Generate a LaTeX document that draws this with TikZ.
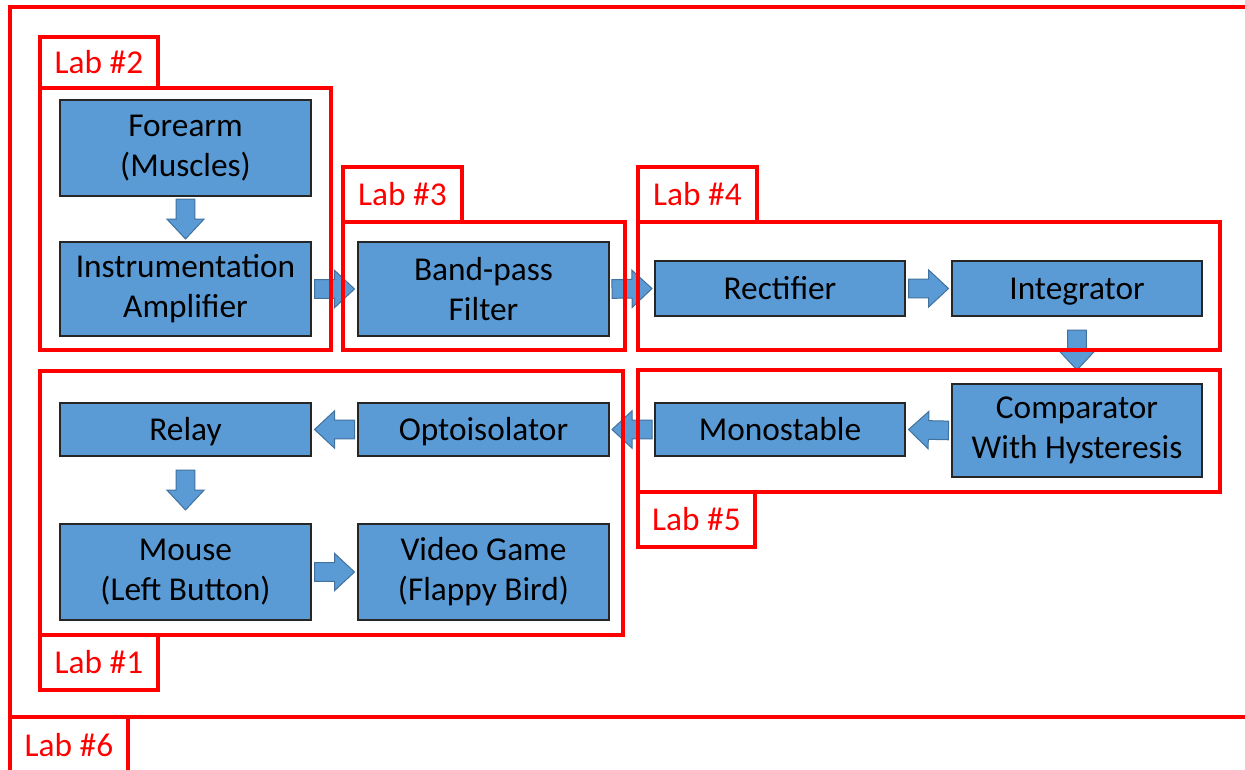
\documentclass[tikz,border=0pt]{standalone}
\usepackage{fontspec}
\setmainfont{Carlito}
\usetikzlibrary{calc}
\definecolor{blockblue}{HTML}{5B9BD5}
\definecolor{arrowedge}{HTML}{41719C}
\definecolor{labred}{HTML}{FF0000}
\tikzset{
  blockbase/.style={draw=black!85, line width=1pt, fill=blockblue, inner sep=0pt,
    font=\fontsize{25}{30}\selectfont, text=black},
  block/.style={blockbase, align=center},
  oneline/.style={blockbase, text height=20pt, text depth=4pt},
  bw/.style={minimum width=#1*0.75pt},
  bh/.style={minimum height=#1*0.75pt},
  labframe/.style={draw=labred, line width=3pt},
  labtag/.style={draw=labred, line width=3pt, text=labred, inner sep=0pt,
    font=\fontsize{25}{30}\selectfont, text height=20pt, text depth=4pt},
  barrowstyle/.style={fill=blockblue, draw=arrowedge, line width=0.75pt, line join=miter},
}
\newcommand\barrow[2]{%
  \coordinate (bM) at ($(#1)!0.5!(#2)$);
  \coordinate (bS) at ($(bM)!15pt!(#1)$);
  \coordinate (bT) at ($(bM)!15pt!(#2)$);
  \coordinate (bH) at ($(bT)!15pt!(bS)$);
  \draw[barrowstyle] ($(bS)!7pt!90:(bT)$) -- ($(bH)!7pt!-90:(bS)$) -- ($(bH)!14pt!-90:(bS)$) -- (bT)
    -- ($(bH)!14pt!90:(bS)$) -- ($(bH)!7pt!90:(bS)$) -- ($(bS)!7pt!-90:(bT)$) -- cycle;
}
\begin{document}
\begin{tikzpicture}[x=0.75pt,y=-0.75pt]
\useasboundingbox[fill=white] (0,0) rectangle (1245,770);

% blocks
\node[block, bw=251, bh=96] (fore) at (185.5,148) {Forearm\\(Muscles)};
\node[block, bw=251, bh=94] (ia) at (185.5,289) {Instrumentation\\Amplifier};
\node[block, bw=251, bh=94] (bpf) at (483.5,289) {Band-pass\\Filter};
\node[oneline, bw=250, bh=55] (rect) at (780,288.5) {Rectifier};
\node[oneline, bw=250, bh=55] (integ) at (1077,288.5) {Integrator};
\node[block, bw=250, bh=93] (comp) at (1077,430.5) {Comparator\\With Hysteresis};
\node[oneline, bw=250, bh=53] (mono) at (780,429.5) {Monostable};
\node[oneline, bw=251, bh=53] (opto) at (483.5,429.5) {Optoisolator};
\node[oneline, bw=251, bh=53] (relay) at (185.5,429.5) {Relay};
\node[block, bw=251, bh=96] (mouse) at (185.5,572) {Mouse\\(Left Button)};
\node[block, bw=251, bh=96] (game) at (483.5,572) {Video Game\\(Flappy Bird)};

% block arrows
\barrow{fore.south}{ia.north}
\barrow{ia.east}{bpf.west}
\barrow{bpf.east}{rect.west}
\barrow{rect.east}{integ.west}
\barrow{integ.south}{comp.north}
\barrow{comp.west}{mono.east}
\barrow{mono.west}{opto.east}
\barrow{opto.west}{relay.east}
\barrow{relay.south}{mouse.north}
\barrow{mouse.east}{game.west}

% lab frames
\draw[labframe] (10,7) rectangle (1265,717);
\draw[labframe] (40,88) rectangle (331,350);
\draw[labframe] (343,222) rectangle (625,350);
\draw[labframe] (638,222) rectangle (1220,350);
\draw[labframe] (638,370) rectangle (1220,492);
\draw[labframe] (40,371) rectangle (623,635);

% lab tags
\node[labtag, bw=118, bh=58] (lab6) at (69,746) {Lab \#6};
\node[labtag, bw=118, bh=51] (lab2) at (99,62.5) {Lab \#2};
\node[labtag, bw=119, bh=55] (lab3) at (402.5,194.5) {Lab \#3};
\node[labtag, bw=119, bh=55] (lab4) at (697.5,194.5) {Lab \#4};
\node[labtag, bw=117, bh=55] (lab5) at (696.5,519.5) {Lab \#5};
\node[labtag, bw=118, bh=55] (lab1) at (99,662.5) {Lab \#1};
\end{tikzpicture}
\end{document}
